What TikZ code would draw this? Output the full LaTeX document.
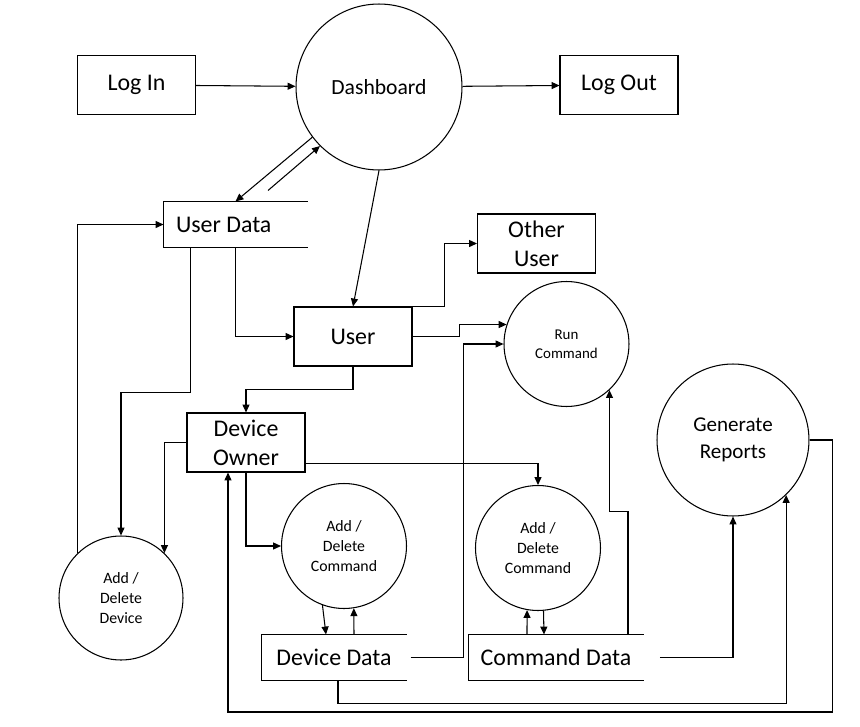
\documentclass[tikz,border=0pt]{standalone}
\usepackage{fontspec}
\setmainfont{Carlito}
\usepackage{tikz}
\usetikzlibrary{arrows.meta,calc}

\begin{document}
\begin{tikzpicture}[>={Triangle[length=4.5pt,width=4pt]},x=0.02cm,y=-0.02cm,line width=0.6pt,
    box/.style={draw,minimum width=2.36cm,minimum height=1.18cm,inner sep=1pt,align=center,
        font=\fontsize{13.6}{16.4}\selectfont},
    proc/.style={draw,circle,inner sep=0pt,align=center},
    small/.style={font=\fontsize{9}{11.3}\selectfont},
    store/.style={minimum height=0.9cm,inner xsep=0.24cm,
        font=\fontsize{13.6}{16.4}\selectfont},
    flow/.style={->}]
    % 画布范围（与原图比例一致）
    \useasboundingbox (0,0) rectangle (860,727);

    % 外部实体
    \node[box] (li) at (136.5,85) {Log In};
    \node[box] (lo) at (619,85) {Log Out};
    \node[box] (ou) at (536.5,243.5) {Other\\User};
    \node[box] (us) at (353,336.5) {User};
    \node[box] (do) at (246,442.5) {Device\\Owner};

    % 处理过程（圆）
    \node[proc,minimum size=3.32cm,font=\fontsize{12.3}{14}\selectfont] (db) at (379,87) {Dashboard};
    \node[proc,minimum size=2.5cm,font=\fontsize{8.5}{10.8}\selectfont] (rc) at (566.5,344) {Run\\Command};
    \node[proc,minimum size=3.04cm,font=\fontsize{12}{15.3}\selectfont] (gr) at (733,440) {Generate\\Reports};
    \node[proc,small,minimum size=2.48cm] (adv) at (121,598) {Add /\\Delete\\Device};
    \node[proc,small,minimum size=2.5cm] (adc1) at (344,546) {Add /\\Delete\\Command};
    \node[proc,small,minimum size=2.5cm] (adc2) at (538,548) {Add /\\Delete\\Command};

    % 数据存储（右侧开口）
    \node[store,text width=2.38cm,align=flush left] (ud) at (235.5,224.5) {User Data};
    \node[store,minimum width=2.88cm] (dd) at (334,657.5) {Device Data};
    \node[store,minimum width=3.44cm] (cd) at (556,657.5) {Command Data};
    \foreach \s in {ud,dd,cd}
        \draw (\s.north east) -- (\s.north west) -- (\s.south west) -- (\s.south east);

    % 登录、登出
    \draw[flow] (li) -- (db);
    \draw[flow] (db) -- (lo);

    % Dashboard 与用户数据
    \draw[flow] (db.217) -- (ud.north);
    \draw[flow] ($(ud.north)+(32.5,-11)$) -- (db.225);
    \draw[flow] (db.south) -- (us.north);
    \draw[flow] (ud.south) |- (us.west);

    % User 的去向
    \draw[flow] (us.north east) -- ++(32,0) |- (ou.west);
    \draw[flow] (us.east) -- ++(47,0) |- (rc.162);
    \draw[flow] (us.south) -- ++(0,23) -| (do.north);
    \draw[flow] ([xshift=0.08cm]dd.east) -- ++(53,0) |- (rc.west);

    % 设备的增删
    \draw[flow] ([xshift=0.54cm]ud.south west) -- ++(0,145) -| (adv.north);
    \draw[flow] (adv.134) |- (ud.west);
    \draw[flow] (do.west) -| (adv.46);

    % 命令的增删
    \draw[flow] (do.south) |- (adc1.west);
    \draw[flow] ([yshift=0.18cm]do.south east) -| (adc2.north);
    \draw[flow] (adc1.250) -- ([xshift=-0.16cm]dd.north);
    \draw[flow] ([xshift=0.4cm]dd.north) -- (adc1.279);
    \draw[flow] ([xshift=-0.58cm]cd.north) -- (adc2.260);
    \draw[flow] (adc2.275) -- ([xshift=-0.24cm]cd.north);

    % 运行命令与报表
    \draw[flow] ([xshift=1.44cm]cd.north) -- ++(0,-123) -| (rc.313);
    \draw[flow] ([xshift=0.32cm]cd.east) -| (gr.south);
    \draw[flow] ([xshift=0.08cm]dd.south) -- ++(0,23) -| (gr.314);
    \draw[flow] (gr.east) -- ++(23,0) -- ++(0,272) -| ([xshift=-0.36cm]do.south);
\end{tikzpicture}
\end{document}
